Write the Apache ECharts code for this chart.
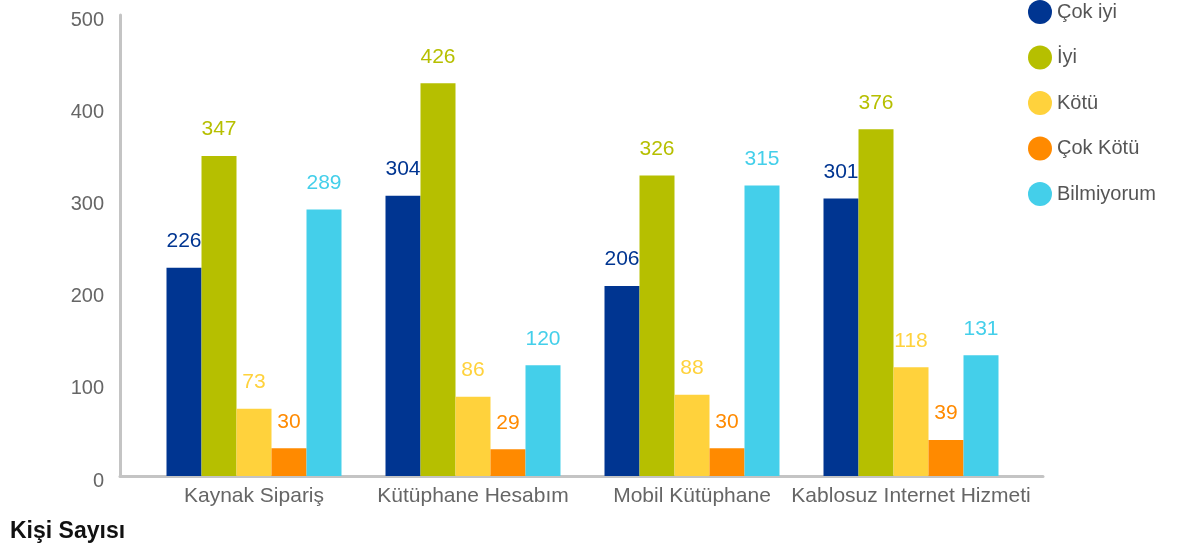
<!DOCTYPE html>
<html>
<head>
<meta charset="utf-8">
<script src="https://cdn.jsdelivr.net/npm/echarts@6/dist/echarts.min.js"></script>
<style>
  html, body { margin: 0; padding: 0; background: #fff; }
  #main { width: 1189px; height: 556px; }
</style>
</head>
<body>
<div id="main"></div>
<script>
var categories = ['Kaynak Sipariş', 'Kütüphane Hesabım', 'Mobil Kütüphane', 'Kablosuz Internet Hizmeti'];
var seriesNames = ['Çok iyi', 'İyi', 'Kötü', 'Çok Kötü', 'Bilmiyorum'];
var cokIyi = [226, 304, 206, 301];
var iyi = [347, 426, 326, 376];
var kotu = [73, 86, 88, 118];
var cokKotu = [30, 29, 30, 39];
var bilmiyorum = [289, 120, 315, 131];
var yTicks = [0, 100, 200, 300, 400, 500];

var colors = ['#003591', '#b6bf00', '#ffd23c', '#ff8a00', '#44cfea'];
var values = [cokIyi, iyi, kotu, cokKotu, bilmiyorum];
var font = '"Liberation Sans", Arial, sans-serif';

var series = [];
for (var i = 0; i < seriesNames.length; ++i) {
    series.push({
        name: seriesNames[i],
        type: 'bar',
        xAxisIndex: 1,
        yAxisIndex: 1,
        data: values[i],
        barWidth: 35,
        barGap: '0%',
        itemStyle: { color: colors[i] },
        label: {
            show: true,
            position: 'top',
            distance: 16,
            color: colors[i],
            fontSize: 21,
            fontFamily: font
        }
    });
}

var chart = echarts.init(document.getElementById('main'));
chart.setOption({
    animation: false,
    color: colors,
    title: {
        text: 'Kişi Sayısı',
        left: 5,
        top: 515,
        textStyle: { fontSize: 23, fontWeight: 'bold', color: '#111', fontFamily: font }
    },
    legend: {
        orient: 'vertical',
        left: 1023,
        top: -5,
        icon: 'circle',
        itemWidth: 24,
        itemHeight: 24,
        itemGap: 21.5,
        textStyle: { fontSize: 20, color: '#555', fontFamily: font },
        data: seriesNames
    },
    grid: [
        { left: 120, right: 146, top: 15, bottom: 80 },
        { left: 144.5, right: 168.5, top: 15, bottom: 80 }
    ],
    xAxis: [{
        gridIndex: 0,
        type: 'value',
        min: 0,
        max: 1,
        axisLine: { show: true, onZero: false, lineStyle: { color: '#c4c4c4', width: 3 } },
        axisTick: { show: false },
        axisLabel: { show: false },
        splitLine: { show: false }
    }, {
        gridIndex: 1,
        type: 'category',
        data: categories,
        axisLine: { show: false },
        axisTick: { show: false },
        axisLabel: { margin: 10, fontSize: 21, color: '#666', fontFamily: font, interval: 0 }
    }],
    yAxis: [{
        gridIndex: 0,
        type: 'value',
        min: yTicks[0],
        max: yTicks[yTicks.length - 1],
        interval: 100,
        axisLine: { show: true, lineStyle: { color: '#c4c4c4', width: 3 } },
        axisTick: { show: false },
        splitLine: { show: false },
        axisLabel: { margin: 16, fontSize: 20, color: '#666', fontFamily: font, verticalAlign: 'top', lineHeight: 10 }
    }, {
        gridIndex: 1,
        type: 'value',
        min: yTicks[0],
        max: yTicks[yTicks.length - 1],
        show: false
    }],
    series: series
});
</script>
</body>
</html>
